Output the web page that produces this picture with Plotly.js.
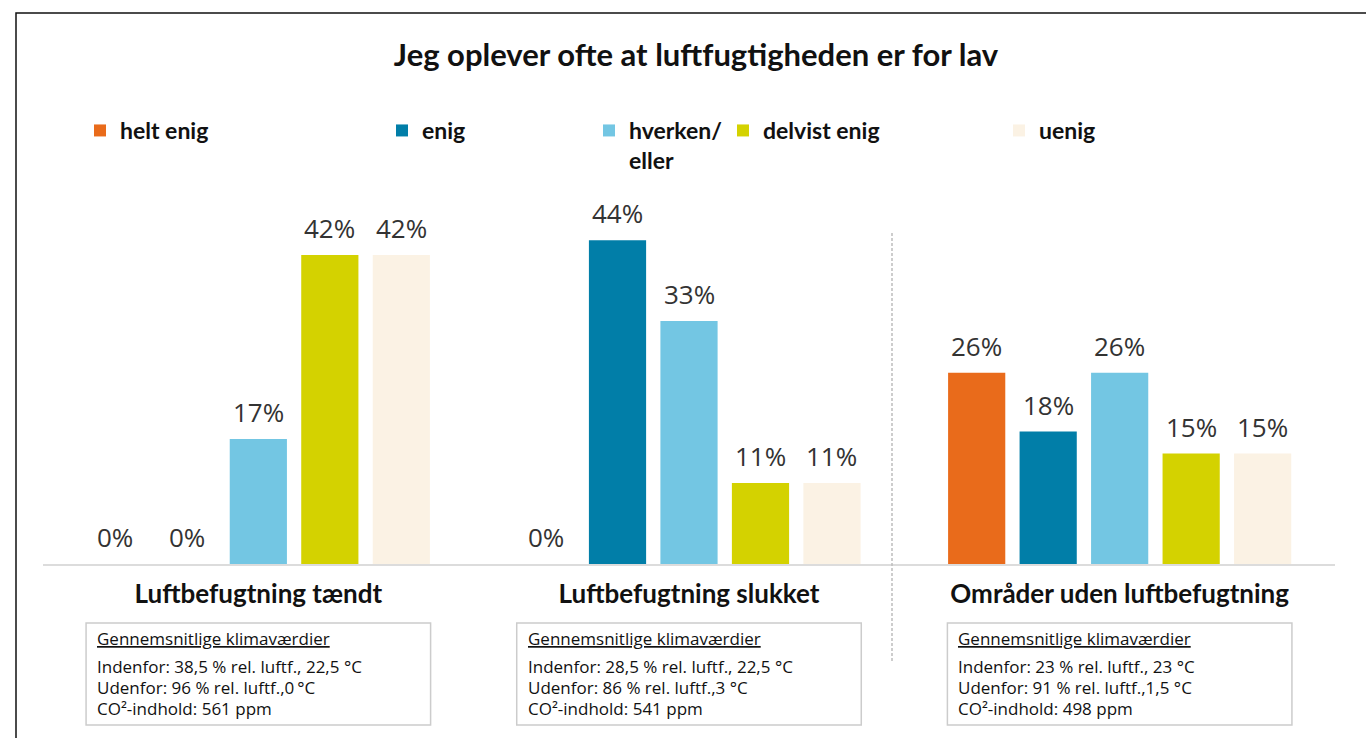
<!DOCTYPE html>
<html>
<head>
<meta charset="utf-8">
<script src="https://cdn.plot.ly/plotly-3.0.1.min.js"></script>
<style>html,body{margin:0;padding:0;background:#fff;}#chart{width:1366px;height:738px;}</style>
</head>
<body>
<div id="chart"></div>
<script>
// ---- data ----
var categories = ['Luftbefugtning tændt', 'Luftbefugtning slukket', 'Områder uden luftbefugtning'];
var seriesNames = ['helt enig', 'enig', 'hverken/<br>eller', 'delvist enig', 'uenig'];
var heltEnig = [0, 0, 26];
var enig = [0, 44, 18];
var hverkenEller = [17, 33, 26];
var delvistEnig = [42, 11, 15];
var uenig = [42, 11, 15];
var seriesColors = ['#E96B1B', '#017EA8', '#73C6E3', '#D4D200', '#FBF2E4'];
var boxHeader = 'Gennemsnitlige klimaværdier';
var indenfor = ['Indenfor: 38,5 % rel. luftf., 22,5 °C', 'Indenfor: 28,5 % rel. luftf., 22,5 °C', 'Indenfor: 23 % rel. luftf., 23 °C'];
var udenfor = ['Udenfor: 96 % rel. luftf.,0\u2009°C', 'Udenfor: 86 % rel. luftf.,3 °C', 'Udenfor: 91 % rel. luftf.,1,5 °C'];
var co2 = ['CO²-indhold: 561 ppm', 'CO²-indhold: 541 ppm', 'CO²-indhold: 498 ppm'];
var titleText = 'Jeg oplever ofte at luftfugtigheden er for lav';

var allSeries = [heltEnig, enig, hverkenEller, delvistEnig, uenig];

// ---- layout helpers (pixel -> paper) ----
var W = 1366, H = 738, mL = 43, mR = 31, mT = 196, mB = 174;
var pw = W - mL - mR, ph = H - mT - mB;
function px2x(px) { return (px - mL) / pw; }
function py2y(py) { return (H - mB - py) / ph; }

var boldFont = 'Lato, "Open Sans", sans-serif';
var regFont = '"Open Sans", "Noto Sans", sans-serif';
var BARGAP = 0.17;

var legendNames = ['legend', 'legend2', 'legend3', 'legend4', 'legend5'];
var legendTextX = [120, 422, 629, 763, 1039];

var traces = allSeries.map(function (vals, i) {
  return {
    type: 'bar',
    name: seriesNames[i],
    x: categories,
    y: vals,
    marker: { color: seriesColors[i] },
    hoverinfo: 'skip',
    legend: legendNames[i],
    showlegend: true
  };
});

var layout = {
  width: W, height: H, autosize: false,
  showlegend: true,
  margin: { l: mL, r: mR, t: mT, b: mB, pad: 0 },
  paper_bgcolor: '#ffffff', plot_bgcolor: '#ffffff',
  barmode: 'group', bargap: BARGAP, bargroupgap: 0.2,
  title: {
    text: '<b>' + titleText + '</b>',
    font: { family: boldFont, size: 31, color: '#111111' },
    x: 696 / W, xref: 'container', xanchor: 'center',
    y: 1 - 55 / H, yref: 'container', yanchor: 'middle'
  },
  xaxis: {
    type: 'category', range: [-0.5, 2.5],
    showline: true, linecolor: '#dcdcdc', linewidth: 2,
    ticks: 'outside', ticklen: 6, tickcolor: 'rgba(0,0,0,0)',
    tickfont: { family: boldFont, size: 26, color: '#111111', weight: 'bold' },
    showgrid: false, zeroline: false, fixedrange: true
  },
  yaxis: { range: [0, 50], visible: false, showgrid: false, zeroline: false, fixedrange: true },
  shapes: [],
  annotations: []
};

// legends
legendNames.forEach(function (ln, i) {
  layout[ln] = {
    x: px2x(legendTextX[i] - 40), xanchor: 'left', xref: 'paper',
    y: py2y(109), yanchor: 'top', yref: 'paper',
    orientation: 'h', bgcolor: 'rgba(0,0,0,0)', borderwidth: 0,
    valign: 'top', visible: true,
    font: { family: boldFont, size: 23, color: '#111111', weight: 'bold' },
    itemclick: false, itemdoubleclick: false
  };
});

// value labels above bars (positioned through the category axis)
var nS = allSeries.length;
var slot = (1 - BARGAP) / nS;
allSeries.forEach(function (vals, i) {
  vals.forEach(function (v, j) {
    layout.annotations.push({
      xref: 'x', yref: 'y', x: j + (i - (nS - 1) / 2) * slot, y: v,
      xanchor: 'center', yanchor: 'bottom', yshift: 7, showarrow: false,
      text: v + '%',
      font: { family: regFont, size: 26, color: '#333333' }
    });
  });
});

// frame (top and left edges)
layout.shapes.push({
  type: 'rect', xref: 'paper', yref: 'paper',
  x0: px2x(16), x1: px2x(1400), y0: py2y(13), y1: py2y(800),
  line: { color: '#111111', width: 1.5 }, fillcolor: 'rgba(0,0,0,0)', layer: 'below'
});
// dashed separator
layout.shapes.push({
  type: 'line', xref: 'paper', yref: 'paper',
  x0: px2x(892), x1: px2x(892), y0: py2y(233), y1: py2y(662),
  line: { color: '#bdbdbd', width: 1.5, dash: '3px,2px' }
});

// climate boxes
var lineY = [666, 687, 708];
categories.forEach(function (c, j) {
  layout.shapes.push({
    type: 'rect', xref: 'x', yref: 'paper',
    x0: j - 0.4, x1: j + 0.4, y0: py2y(725), y1: py2y(623),
    line: { color: '#cccccc', width: 1.5 }, fillcolor: '#ffffff', layer: 'below'
  });
  layout.annotations.push({
    xref: 'x', yref: 'paper', x: j - 0.4, xshift: 9, xanchor: 'left',
    y: py2y(638), yanchor: 'middle', showarrow: false,
    text: '<u>' + boxHeader + '</u>', align: 'left',
    font: { family: regFont, size: 17, color: '#111111' }
  });
  [indenfor[j], udenfor[j], co2[j]].forEach(function (t, k) {
    layout.annotations.push({
      xref: 'x', yref: 'paper', x: j - 0.4, xshift: 9, xanchor: 'left',
      y: py2y(lineY[k]), yanchor: 'middle', showarrow: false,
      text: t, align: 'left',
      font: { family: regFont, size: 17, color: '#111111' }
    });
  });
});

Plotly.newPlot('chart', traces, layout, { displayModeBar: false, staticPlot: true });
</script>
</body>
</html>
